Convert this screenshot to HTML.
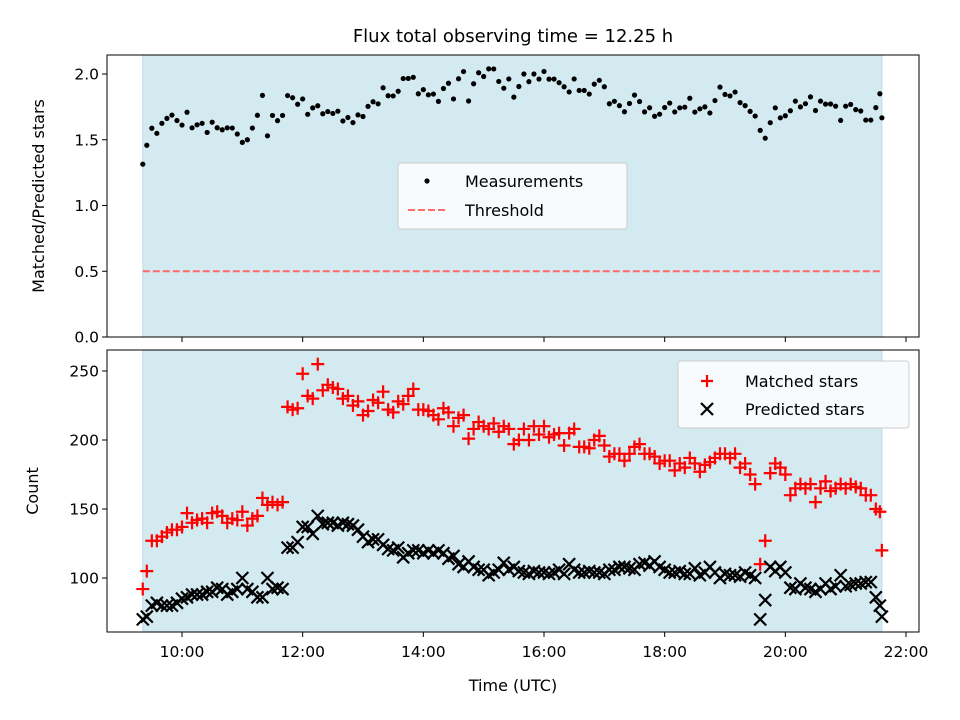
<!DOCTYPE html>
<html><head><meta charset="utf-8"><style>
body{margin:0;background:#fff}
svg{display:block;font-family:"DejaVu Sans","Liberation Sans",sans-serif}
</style></head><body>
<svg id="c" width="960" height="720" viewBox="0 0 960 720"></svg>
<script>
const timesMin=[561,565,570,575,580,585,590,595,600,605,610,615,620,625,630,635,640,645,650,655,660,665,670,675,680,685,690,695,700,705,710,715,720,725,730,735,740,745,750,755,760,765,770,775,780,785,790,795,800,805,810,815,820,825,830,835,840,845,850,855,860,865,870,875,880,885,890,895,900,905,910,915,920,925,930,935,940,945,950,955,960,965,970,975,980,985,990,995,1000,1005,1010,1015,1020,1025,1030,1035,1040,1045,1050,1055,1060,1065,1070,1075,1080,1085,1090,1095,1100,1105,1110,1115,1120,1125,1130,1135,1140,1145,1150,1155,1160,1165,1170,1175,1180,1185,1190,1195,1200,1205,1210,1215,1220,1225,1230,1235,1240,1245,1250,1255,1260,1265,1270,1275,1280,1285,1290,1294,1296];
const matched=[92,105,127,127,130,133,135,135,137,147,140,142,143,140,147,148,145,140,143,142,148,138,143,145,158,153,155,153,155,224,222,223,248,232,230,255,236,240,238,237,230,232,225,228,218,221,229,227,235,222,220,228,226,232,237,222,222,221,218,215,223,220,210,216,218,201,208,213,210,208,212,206,210,208,197,200,208,200,210,204,210,202,204,205,196,205,208,195,195,194,200,203,196,188,190,190,185,190,195,197,190,190,188,183,185,185,178,183,180,187,183,177,182,184,187,190,190,187,190,180,183,175,168,110,127,176,183,180,175,160,165,168,165,168,155,165,170,163,165,168,165,168,166,165,160,160,150,148,120];
const predicted=[70,72,80,82,80,80,80,82,85,86,88,88,88,90,90,93,92,88,90,92,100,92,90,86,86,100,92,93,92,122,122,126,137,137,132,145,139,140,140,138,140,139,138,135,130,126,128,128,124,121,120,122,115,118,120,120,118,120,118,120,118,114,116,110,108,112,108,106,106,102,104,106,111,106,108,105,104,103,105,104,104,103,104,106,103,110,106,104,104,105,104,104,103,106,106,108,108,107,106,110,111,109,112,108,106,104,104,105,103,103,107,102,104,108,104,100,103,102,102,101,104,102,100,70,84,108,105,108,104,93,92,96,93,92,90,92,96,92,94,102,94,95,96,96,97,97,86,80,72];
const xTickLabels=["10:00","12:00","14:00","16:00","18:00","20:00","22:00"];
const xTickMin=[600,720,840,960,1080,1200,1320];
const topTicks=[0,0.5,1.0,1.5,2.0];
const botTicks=[100,150,200,250];
const threshold=0.5;

const NS="http://www.w3.org/2000/svg";
const svg=document.getElementById('c');
function el(tag,attrs,parent,text){const e=document.createElementNS(NS,tag);for(const k in attrs)e.setAttribute(k,attrs[k]);if(text!==undefined)e.textContent=text;(parent||svg).appendChild(e);return e;}
const L=107,R=919;
const xs=m=>182+(m-600)*(724/720);
const T={top:55,bot:337}, B={top:350,bot:632};
const yT=v=>337-v*131.5;
const yB=v=>578-(v-100)*1.38;

function panel(P,name){
  const g=el('g',{});
  
  
  el('rect',{x:L,y:P.top,width:R-L,height:P.bot-P.top,fill:'#fff'},g);
  const x0=xs(timesMin[0]),x1=xs(timesMin[timesMin.length-1]);
  const sh=el('rect',{x:x0,y:P.top,width:x1-x0,height:P.bot-P.top,fill:'#d4eaf1',stroke:'#bcdce6','stroke-width':1},g);
  
  
  return g;
}
function frame(P,g){el('rect',{x:L,y:P.top,width:R-L,height:P.bot-P.top,fill:'none',stroke:'#000','stroke-width':1},g);}

const title=el('text',{x:513,y:42,'text-anchor':'middle','font-size':'18'},svg,'Flux total observing time = 12.25 h');



const gT=panel(T,'ratio-panel');
const th=el('line',{x1:xs(timesMin[0]),x2:xs(timesMin[timesMin.length-1]),y1:yT(threshold),y2:yT(threshold),stroke:'#ff6b6b','stroke-width':2,'stroke-dasharray':'7,3'},gT);


for(let i=0;i<timesMin.length;i++){
  const d=el('circle',{cx:xs(timesMin[i]),cy:yT(matched[i]/predicted[i]),r:2.6,fill:'#000'},gT);
  
  
}
frame(T,gT);
topTicks.forEach(v=>{const y=yT(v);el('line',{x1:L-5,x2:L,y1:y,y2:y,stroke:'#000'},gT);
  const t=el('text',{x:L-8,y:y+5.5,'text-anchor':'end','font-size':'15.5'},gT,v.toFixed(1));
  });
xTickMin.forEach(m=>{el('line',{x1:xs(m),x2:xs(m),y1:T.bot,y2:T.bot+5,stroke:'#000'},gT);});
const ylT=el('text',{x:44,y:196,'text-anchor':'middle','font-size':'16',transform:'rotate(-90 44 196)'},gT,'Matched/Predicted stars');

const lg=el('g',{});


el('rect',{x:398,y:163,width:229,height:66,rx:3,fill:'#f7fbfd',stroke:'#ccc'},lg);
el('circle',{cx:427,cy:181,r:2.6,fill:'#000'},lg);
el('text',{x:465,y:187,'font-size':'16'},lg,'Measurements');
el('line',{x1:408,x2:448,y1:210,y2:210,stroke:'#ff6b6b','stroke-width':2,'stroke-dasharray':'7,3'},lg);
el('text',{x:465,y:216,'font-size':'16'},lg,'Threshold');

const gB=panel(B,'count-panel');
for(let i=0;i<timesMin.length;i++){
  const x=xs(timesMin[i]),y=yB(matched[i]);
  const p=el('path',{d:`M${x-6.5},${y}H${x+6.5}M${x},${y-6.5}V${y+6.5}`,stroke:'#f00','stroke-width':2.2,fill:'none'},gB);
  
  
}
for(let i=0;i<timesMin.length;i++){
  const x=xs(timesMin[i]),y=yB(predicted[i]);
  const p=el('path',{d:`M${x-6},${y-6}L${x+6},${y+6}M${x-6},${y+6}L${x+6},${y-6}`,stroke:'#000','stroke-width':2.2,fill:'none'},gB);
  
  
}
frame(B,gB);
botTicks.forEach(v=>{const y=yB(v);el('line',{x1:L-5,x2:L,y1:y,y2:y,stroke:'#000'},gB);
  const t=el('text',{x:L-8,y:y+5.5,'text-anchor':'end','font-size':'15.5'},gB,String(v));
  });
xTickMin.forEach((m,i)=>{el('line',{x1:xs(m),x2:xs(m),y1:B.bot,y2:B.bot+5,stroke:'#000'},gB);
  const t=el('text',{x:xs(m),y:B.bot+25,'text-anchor':'middle','font-size':'15.5'},gB,xTickLabels[i]);
  });
const ylB=el('text',{x:38,y:491,'text-anchor':'middle','font-size':'16',transform:'rotate(-90 38 491)'},gB,'Count');

const xl=el('text',{x:513,y:691,'text-anchor':'middle','font-size':'16'},gB,'Time (UTC)');

const lb=el('g',{});


el('rect',{x:678,y:361,width:231,height:67,rx:3,fill:'#f7fbfd',stroke:'#ccc'},lb);
el('path',{d:'M701,381H713M707,375V387',stroke:'#f00','stroke-width':2.2},lb);
el('text',{x:745,y:387,'font-size':'16'},lb,'Matched stars');
el('path',{d:'M701,403L713,415M701,415L713,403',stroke:'#000','stroke-width':2.2},lb);
el('text',{x:745,y:415,'font-size':'16'},lb,'Predicted stars');
</script>
</body></html>
